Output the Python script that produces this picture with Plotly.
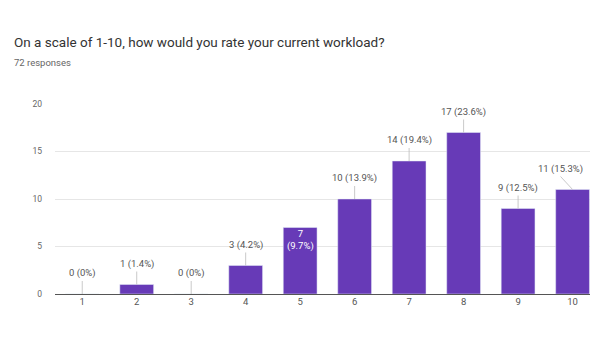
import plotly.graph_objects as go

categories = [1, 2, 3, 4, 5, 6, 7, 8, 9, 10]
counts = [0, 1, 0, 3, 7, 10, 14, 17, 9, 11]
pct_labels = ["0%", "1.4%", "0%", "4.2%", "9.7%", "13.9%", "19.4%", "23.6%", "12.5%", "15.3%"]
y_ticks = [0, 5, 10, 15, 20]
title_text = "On a scale of 1-10, how would you rate your current workload?"
subtitle_text = "72 responses"
inside_label_cats = [5]

BAR = "#673ab7"
FONT = "Roboto, Arial, sans-serif"

fig = go.Figure()
fig.add_trace(go.Bar(x=categories, y=counts, marker_color=BAR, width=0.62,
                     hoverinfo="skip"))

annotations = []
for i, (c, v, p) in enumerate(zip(categories, counts, pct_labels)):
    if c in inside_label_cats:
        annotations.append(dict(x=c, y=v, xref="x", yref="y",
                                text=f"{v}<br>({p})", showarrow=False,
                                yanchor="top", yshift=2,
                                font=dict(family=FONT, size=9.5, color="white")))
    else:
        annotations.append(dict(x=c, y=v, xref="x", yref="y",
                                text=f"{v} ({p})", showarrow=True,
                                arrowhead=0, arrowwidth=0.8, arrowcolor="#bbbbbb",
                                ax=-12 if i == len(categories) - 1 else 0, ay=-13,
                                standoff=0, yanchor="bottom",
                                font=dict(family=FONT, size=9.5, color="#555555")))

annotations.append(dict(text=title_text, xref="paper", yref="paper",
                        x=-0.08, y=1.221 + 0.105, xanchor="left", yanchor="middle",
                        showarrow=False,
                        font=dict(family=FONT, size=13.5, color="#333333")))
annotations.append(dict(text=subtitle_text, xref="paper", yref="paper",
                        x=-0.08, y=1.221, xanchor="left", yanchor="middle",
                        showarrow=False,
                        font=dict(family=FONT, size=9.5, color="#666666")))

fig.update_layout(
    width=590, height=338,
    margin=dict(l=55, r=0, t=104, b=44),
    paper_bgcolor="white", plot_bgcolor="white",
    showlegend=False,
    annotations=annotations,
)
fig.update_xaxes(range=[0.5, 10.32], tickmode="array", tickvals=categories,
                 ticktext=[str(c) for c in categories], showgrid=False,
                 ticks="", tickfont=dict(family=FONT, size=9.5, color="#555555"),
                 showline=False, zeroline=False)
fig.update_yaxes(range=[0, 20], tickmode="array", tickvals=y_ticks,
                 showgrid=True, gridcolor="#e6e6e6", gridwidth=1,
                 zeroline=True, zerolinecolor="#555555", zerolinewidth=1,
                 tickfont=dict(family=FONT, size=8.5, color="#666666"),
                 ticks="", ticklabelstandoff=12)

fig.write_html("out.html", config={"displayModeBar": False},
               post_script="document.body.style.margin='0';document.body.style.overflow='hidden';")
